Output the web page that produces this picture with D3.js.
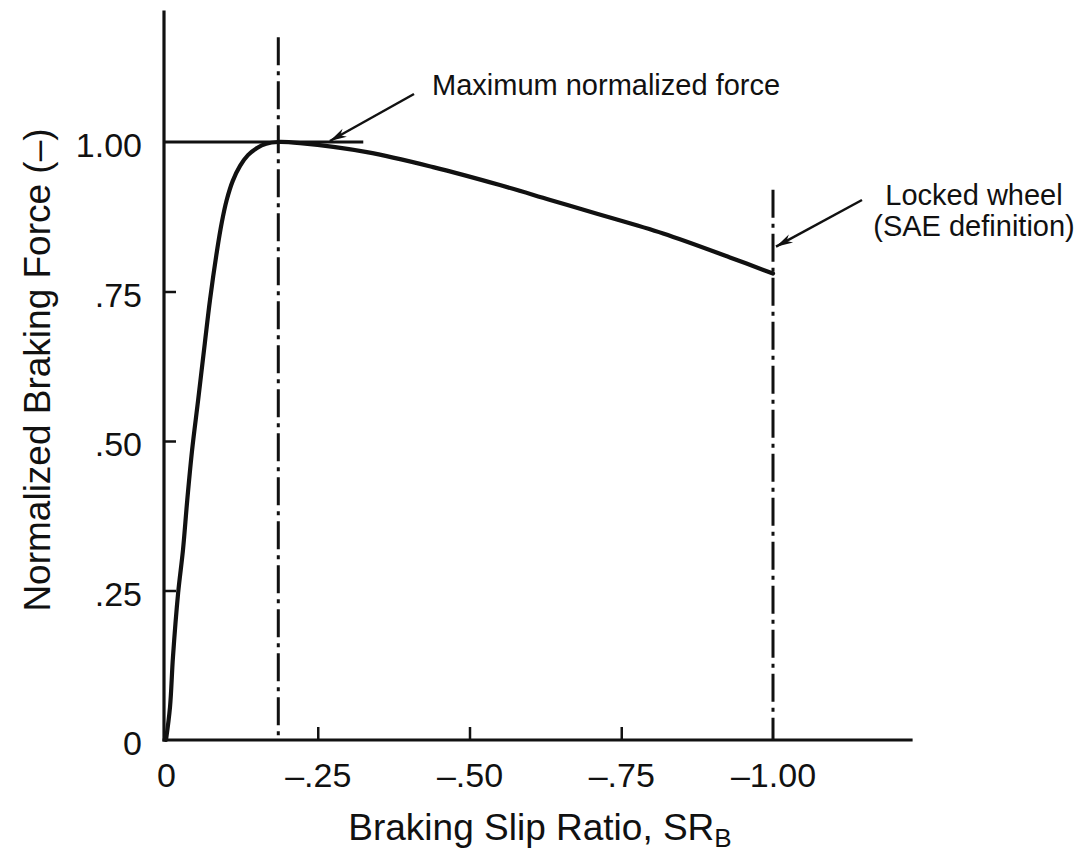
<!DOCTYPE html>
<html>
<head>
<meta charset="utf-8">
<script src="https://cdn.jsdelivr.net/npm/d3@7"></script>
<style>
  html, body { margin: 0; padding: 0; background: #fff; }
  svg { display: block; }
  text { font-family: "Liberation Sans", Arial, Helvetica, sans-serif; fill: #111; }
</style>
</head>
<body>
<svg id="chart" width="1082" height="856"></svg>
<script>
// ---- data ----
const slip = [0, -0.0066, -0.0115, -0.020, -0.028, -0.035, -0.043, -0.053, -0.064, -0.0725,
              -0.084, -0.092, -0.100, -0.110, -0.122, -0.135, -0.150, -0.165, -0.185, -0.221,
              -0.331, -0.440, -0.550, -0.633, -0.710, -0.819, -0.929, -1.000];
const force = [0, 0.055, 0.139, 0.246, 0.318, 0.401, 0.485, 0.569, 0.664, 0.736,
               0.818, 0.866, 0.903, 0.935, 0.960, 0.978, 0.990, 0.997, 1.000, 0.998,
               0.983, 0.958, 0.928, 0.903, 0.880, 0.847, 0.807, 0.780];
const xTicks = [0, -0.25, -0.50, -0.75, -1.00];
const xTickLabels = ["0", "\u2013.25", "\u2013.50", "\u2013.75", "\u20131.00"];
const yTicks = [0, 0.25, 0.50, 0.75, 1.00];
const yTickLabels = ["0", ".25", ".50", ".75", "1.00"];
const peakSlip = -0.185;      // slip at maximum normalized force
const lockedSlip = -1.00;     // locked wheel
const maxForce = 1.00;
const maxLineEnd = -0.325;    // extent of the 1.00 reference line
const xAxisEnd = -1.23;
const yAxisTop = 1.22;
const peakLineTop = 1.175;
const lockedLineTop = 0.92;
const xTitle = "Braking Slip Ratio, SR";
const xTitleSub = "B";
const yTitle = "Normalized Braking Force (\u2013)";
const noteMax = "Maximum normalized force";
const noteLocked = ["Locked wheel", "(SAE definition)"];

// ---- scales ----
const x = d3.scaleLinear().domain([0, -1]).range([166, 773]);
const y = d3.scaleLinear().domain([0, 1]).range([740, 142]);
const axisX = x(0) - 2;

const svg = d3.select("#chart");
const ink = "#111";

svg.append("rect").attr("width", 1082).attr("height", 856).attr("fill", "#fff");

// defs: arrowhead
svg.append("defs").append("marker")
  .attr("id", "arrow").attr("viewBox", "-18 -6 20 12")
  .attr("refX", 0).attr("refY", 0)
  .attr("markerWidth", 20).attr("markerHeight", 12)
  .attr("markerUnits", "userSpaceOnUse")
  .attr("orient", "auto")
  .append("path").attr("d", "M0,0 L-17,-4.5 L-12,0 L-17,4.5 Z").attr("fill", ink);

// axes lines
svg.append("line").attr("x1", axisX).attr("x2", axisX)
  .attr("y1", y(yAxisTop)).attr("y2", y(0) + 1.5)
  .attr("stroke", ink).attr("stroke-width", 3.2);
svg.append("line").attr("x1", axisX - 1.5).attr("x2", x(xAxisEnd))
  .attr("y1", y(0)).attr("y2", y(0))
  .attr("stroke", ink).attr("stroke-width", 3.2);

// inward ticks
const yTickAxis = svg.append("g").attr("transform", `translate(${axisX},0)`)
  .call(d3.axisRight(y).tickValues(yTicks.filter(v => v > 0 && v < 1)).tickSize(12).tickFormat(""));
yTickAxis.select(".domain").remove();
yTickAxis.selectAll("line").attr("stroke", ink).attr("stroke-width", 2.5);

const xTickAxis = svg.append("g").attr("transform", `translate(0,${y(0)})`)
  .call(d3.axisTop(x).tickValues(xTicks.filter(v => v < 0 && v > -1)).tickSize(13).tickFormat(""));
xTickAxis.select(".domain").remove();
xTickAxis.selectAll("line").attr("stroke", ink).attr("stroke-width", 2.5);

// tick labels
const yLab = svg.append("g").attr("transform", `translate(${axisX},0)`)
  .call(d3.axisLeft(y).tickValues(yTicks).tickSize(0).tickPadding(22)
    .tickFormat((d, i) => yTickLabels[i]));
yLab.select(".domain").remove();
yLab.selectAll("text").attr("font-size", 34).attr("font-family", "Liberation Sans, Arial, sans-serif")
  .attr("fill", ink).attr("dy", "0.44em");

const xLab = svg.append("g").attr("transform", `translate(0,${y(0)})`)
  .call(d3.axisBottom(x).tickValues(xTicks).tickSize(0).tickPadding(23)
    .tickFormat((d, i) => xTickLabels[i]));
xLab.select(".domain").remove();
xLab.selectAll("text").attr("font-size", 34).attr("font-family", "Liberation Sans, Arial, sans-serif")
  .attr("fill", ink);

// reference lines
svg.append("line").attr("x1", axisX).attr("x2", x(maxLineEnd))
  .attr("y1", y(maxForce)).attr("y2", y(maxForce))
  .attr("stroke", ink).attr("stroke-width", 3);

const dash = "28,6,4,6";
svg.append("line").attr("x1", x(peakSlip)).attr("x2", x(peakSlip))
  .attr("y1", y(peakLineTop)).attr("y2", y(0))
  .attr("stroke", ink).attr("stroke-width", 3).attr("stroke-dasharray", dash);
svg.append("line").attr("x1", x(lockedSlip)).attr("x2", x(lockedSlip))
  .attr("y1", y(lockedLineTop)).attr("y2", y(0))
  .attr("stroke", ink).attr("stroke-width", 3).attr("stroke-dasharray", dash);

// curve
const pts = slip.map((s, i) => [s, force[i]]);
svg.append("path").datum(pts)
  .attr("d", d3.line().x(d => x(d[0])).y(d => y(d[1])).curve(d3.curveCatmullRom.alpha(0.5)))
  .attr("fill", "none").attr("stroke", ink).attr("stroke-width", 4.2)
  .attr("stroke-linejoin", "round").attr("stroke-linecap", "round");

// annotations
svg.append("text").attr("x", 432).attr("y", 95).attr("font-size", 29).text(noteMax);
svg.append("line").attr("x1", 414).attr("y1", 94).attr("x2", x(-0.27)).attr("y2", y(maxForce) - 1)
  .attr("stroke", ink).attr("stroke-width", 2.5).attr("marker-end", "url(#arrow)");

const lk = svg.append("text").attr("font-size", 29).attr("text-anchor", "middle");
lk.append("tspan").attr("x", 974).attr("y", 205).text(noteLocked[0]);
lk.append("tspan").attr("x", 974).attr("y", 236).text(noteLocked[1]);
svg.append("line").attr("x1", 862).attr("y1", 200).attr("x2", x(lockedSlip) + 3).attr("y2", y(0.825))
  .attr("stroke", ink).attr("stroke-width", 2.5).attr("marker-end", "url(#arrow)");

// axis titles
const xt = svg.append("text").attr("x", 540).attr("y", 840).attr("font-size", 37)
  .attr("text-anchor", "middle");
xt.append("tspan").text(xTitle);
xt.append("tspan").attr("font-size", 26).attr("dy", 7).text(xTitleSub);

svg.append("text").attr("transform", "translate(50,370) rotate(-90)")
  .attr("font-size", 37).attr("text-anchor", "middle").text(yTitle);
</script>
</body>
</html>
